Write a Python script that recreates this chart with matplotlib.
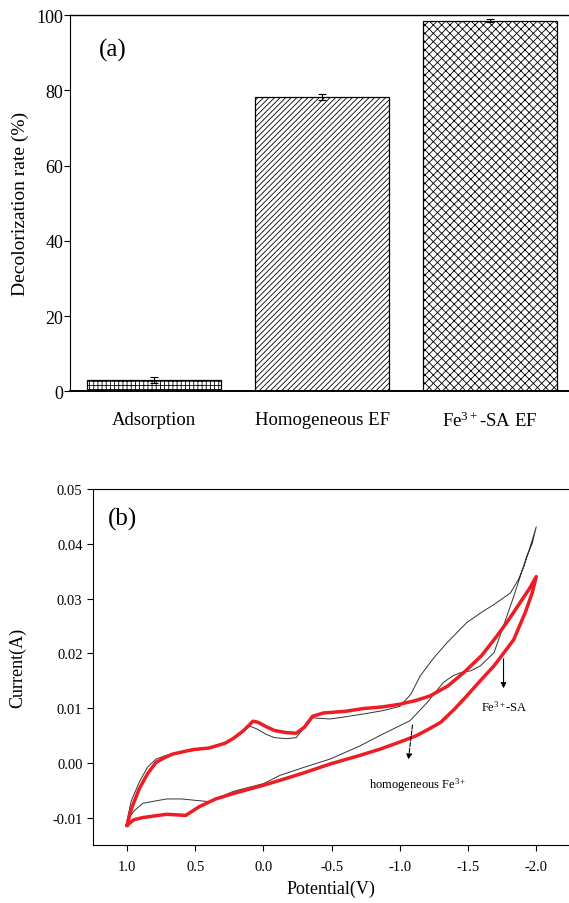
import matplotlib
matplotlib.use("Agg")
import matplotlib.pyplot as plt

plt.rcParams["font.family"] = ["Liberation Serif", "DejaVu Serif"]
plt.rcParams["mathtext.fontset"] = "custom"
plt.rcParams["mathtext.rm"] = "Liberation Serif"
plt.rcParams["mathtext.it"] = "Liberation Serif:italic"
plt.rcParams["hatch.linewidth"] = 0.6
plt.rcParams["hatch.color"] = "#333333"

# panel (a): decolorization
categories = ["Adsorption", "Homogeneous EF", r"Fe$^{3+}$-SA EF"]
rates = [2.9, 78.3, 98.6]
rate_err = [0.8, 0.7, 0.5]
hatches = ["++++", "//////", "xxxx"]

# panel (b): cyclic voltammograms (potential V, current A)
red_v = [1.0, 0.97, 0.91, 0.85, 0.787, 0.72, 0.665, 0.52, 0.40, 0.345, 0.28, 0.224, 0.15, 0.10,
         0.077, 0.04, -0.02, -0.08, -0.17, -0.24, -0.30, -0.36, -0.44, -0.60, -0.73, -0.87, -1.0,
         -1.12, -1.22, -1.35, -1.47, -1.60, -1.71, -1.80, -1.88, -1.95, -2.0,
         -1.97, -1.92, -1.835, -1.76, -1.69, -1.59, -1.49, -1.40, -1.30, -1.20, -1.125, -1.0,
         -0.855, -0.70, -0.49, -0.30, -0.12, 0.0, 0.22, 0.35, 0.47, 0.57, 0.64, 0.71, 0.80,
         0.885, 0.95, 1.0]
red_i = [-0.0114, -0.0085, -0.0047, -0.0020, 0.0001, 0.0010, 0.0016, 0.0024, 0.0027, 0.0031,
         0.0036, 0.0044, 0.0058, 0.0070, 0.0076, 0.0074, 0.0066, 0.0059, 0.0055, 0.0054, 0.0065,
         0.0085, 0.0091, 0.0094, 0.0099, 0.0102, 0.0107, 0.0114, 0.0122, 0.0140, 0.0165, 0.0196,
         0.0231, 0.0262, 0.0292, 0.0318, 0.0340,
         0.0310, 0.0275, 0.0225, 0.0200, 0.0177, 0.0150, 0.0122, 0.0098, 0.0074, 0.0060, 0.0050,
         0.0038, 0.0025, 0.0013, -0.0002, -0.0018, -0.0032, -0.0041, -0.0056, -0.0066, -0.0080,
         -0.0096, -0.0095, -0.0094, -0.0097, -0.0100, -0.0104, -0.0114]

blk_v = [1.0, 0.97, 0.91, 0.85, 0.787, 0.72, 0.665, 0.52, 0.40, 0.345, 0.28, 0.224, 0.15, 0.10,
         0.05, -0.02, -0.08, -0.17, -0.24, -0.30, -0.36, -0.49, -0.60, -0.73, -0.87, -1.0, -1.08,
         -1.15, -1.25, -1.345, -1.49, -1.60, -1.69, -1.81, -1.87, -1.91, -1.95, -2.0,
         -1.97, -1.93, -1.835, -1.76, -1.69, -1.59, -1.52, -1.45, -1.39, -1.32, -1.20, -1.075,
         -0.855, -0.70, -0.49, -0.30, -0.12, 0.0, 0.22, 0.395, 0.52, 0.60, 0.71, 0.80, 0.885,
         0.95, 1.0]
blk_i = [-0.0105, -0.0070, -0.0035, -0.0008, 0.0007, 0.0013, 0.0017, 0.0022, 0.0027, 0.0031,
         0.0036, 0.0043, 0.0058, 0.0067, 0.0062, 0.0052, 0.0046, 0.0044, 0.0046, 0.0065, 0.0082,
         0.0080, 0.0084, 0.0089, 0.0095, 0.0103, 0.0125, 0.0159, 0.0192, 0.0219, 0.0256, 0.0275,
         0.0289, 0.0310, 0.0335, 0.0359, 0.0390, 0.0431,
         0.0400, 0.0377, 0.0304, 0.0250, 0.0201, 0.0177, 0.0168, 0.0165, 0.0159, 0.0147, 0.0110,
         0.0077, 0.0050, 0.0030, 0.0007, -0.0008, -0.0023, -0.0038, -0.0052, -0.0071, -0.0068,
         -0.0066, -0.0066, -0.0070, -0.0074, -0.0088, -0.0105]

fig = plt.figure(figsize=(5.69, 9.04), dpi=100)

# ---- (a)
ax1 = fig.add_axes([0.123, 0.566, 0.877, 0.416])
for i, (r, e, h) in enumerate(zip(rates, rate_err, hatches)):
    ax1.bar(i, r, width=0.8, color="white", edgecolor="black", linewidth=0.9, hatch=h)
    ax1.errorbar(i, r, yerr=e, color="black", capsize=3, elinewidth=0.8, capthick=0.8)
ax1.set_xlim(-0.5, 2.47)
ax1.set_ylim(0, 100)
ax1.set_xticks(range(len(categories)), labels=categories, fontsize=13.5)
ax1.tick_params(axis="x", length=0, pad=14)
ax1.set_yticks([0, 20, 40, 60, 80, 100])
ax1.tick_params(axis="y", direction="out", length=4, pad=1, labelsize=13)
ax1.set_ylabel("Decolorization rate (%)", fontsize=14, labelpad=5)
ax1.spines["right"].set_visible(False)
ax1.spines["bottom"].set_linewidth(1.4)
ax1.spines["top"].set_linewidth(1.0)
ax1.text(0.058, 0.91, "(a)", transform=ax1.transAxes, fontsize=18, va="center")

# ---- (b)
ax2 = fig.add_axes([0.1634, 0.0642, 0.8366, 0.3938])
ax2.plot(blk_v, blk_i, color="#333333", linewidth=0.7)
ax2.plot(red_v, red_i, color="#ee1c24", linewidth=2.5)
ax2.set_xlim(1.25, -2.24)
ax2.set_ylim(-0.015, 0.05)
ax2.set_xticks([1.0, 0.5, 0.0, -0.5, -1.0, -1.5, -2.0])
ax2.set_yticks([-0.01, 0.0, 0.01, 0.02, 0.03, 0.04, 0.05])
ax2.set_yticklabels(["-0.01", "0.00", "0.01", "0.02", "0.03", "0.04", "0.05"])
ax2.set_xticklabels(["1.0", "0.5", "0.0", "-0.5", "-1.0", "-1.5", "-2.0"])
ax2.tick_params(direction="out", length=4, labelsize=10.5)
ax2.tick_params(axis="x", pad=7)
ax2.set_xlabel("Potential(V)", fontsize=13, labelpad=5)
ax2.set_ylabel("Current(A)", fontsize=13, labelpad=19)
ax2.spines["right"].set_visible(False)
ax2.text(0.032, 0.916, "(b)", transform=ax2.transAxes, fontsize=18, va="center")

ax2.annotate("", xy=(-1.76, 0.0131), xytext=(-1.76, 0.0195),
             arrowprops=dict(arrowstyle="-|>", color="black", lw=0.8, mutation_scale=8))
ax2.text(-1.77, 0.0103, r"Fe$^{3+}$-SA", fontsize=9, ha="center", va="center")
ax2.annotate("", xy=(-1.06, 0.0001), xytext=(-1.095, 0.0074),
             arrowprops=dict(arrowstyle="-|>", color="black", lw=0.8, linestyle="--",
                             mutation_scale=8))
ax2.text(-1.13, -0.0039, r"homogeneous Fe$^{3+}$", fontsize=9, ha="center", va="center")

fig.savefig("out.png", dpi=100)
